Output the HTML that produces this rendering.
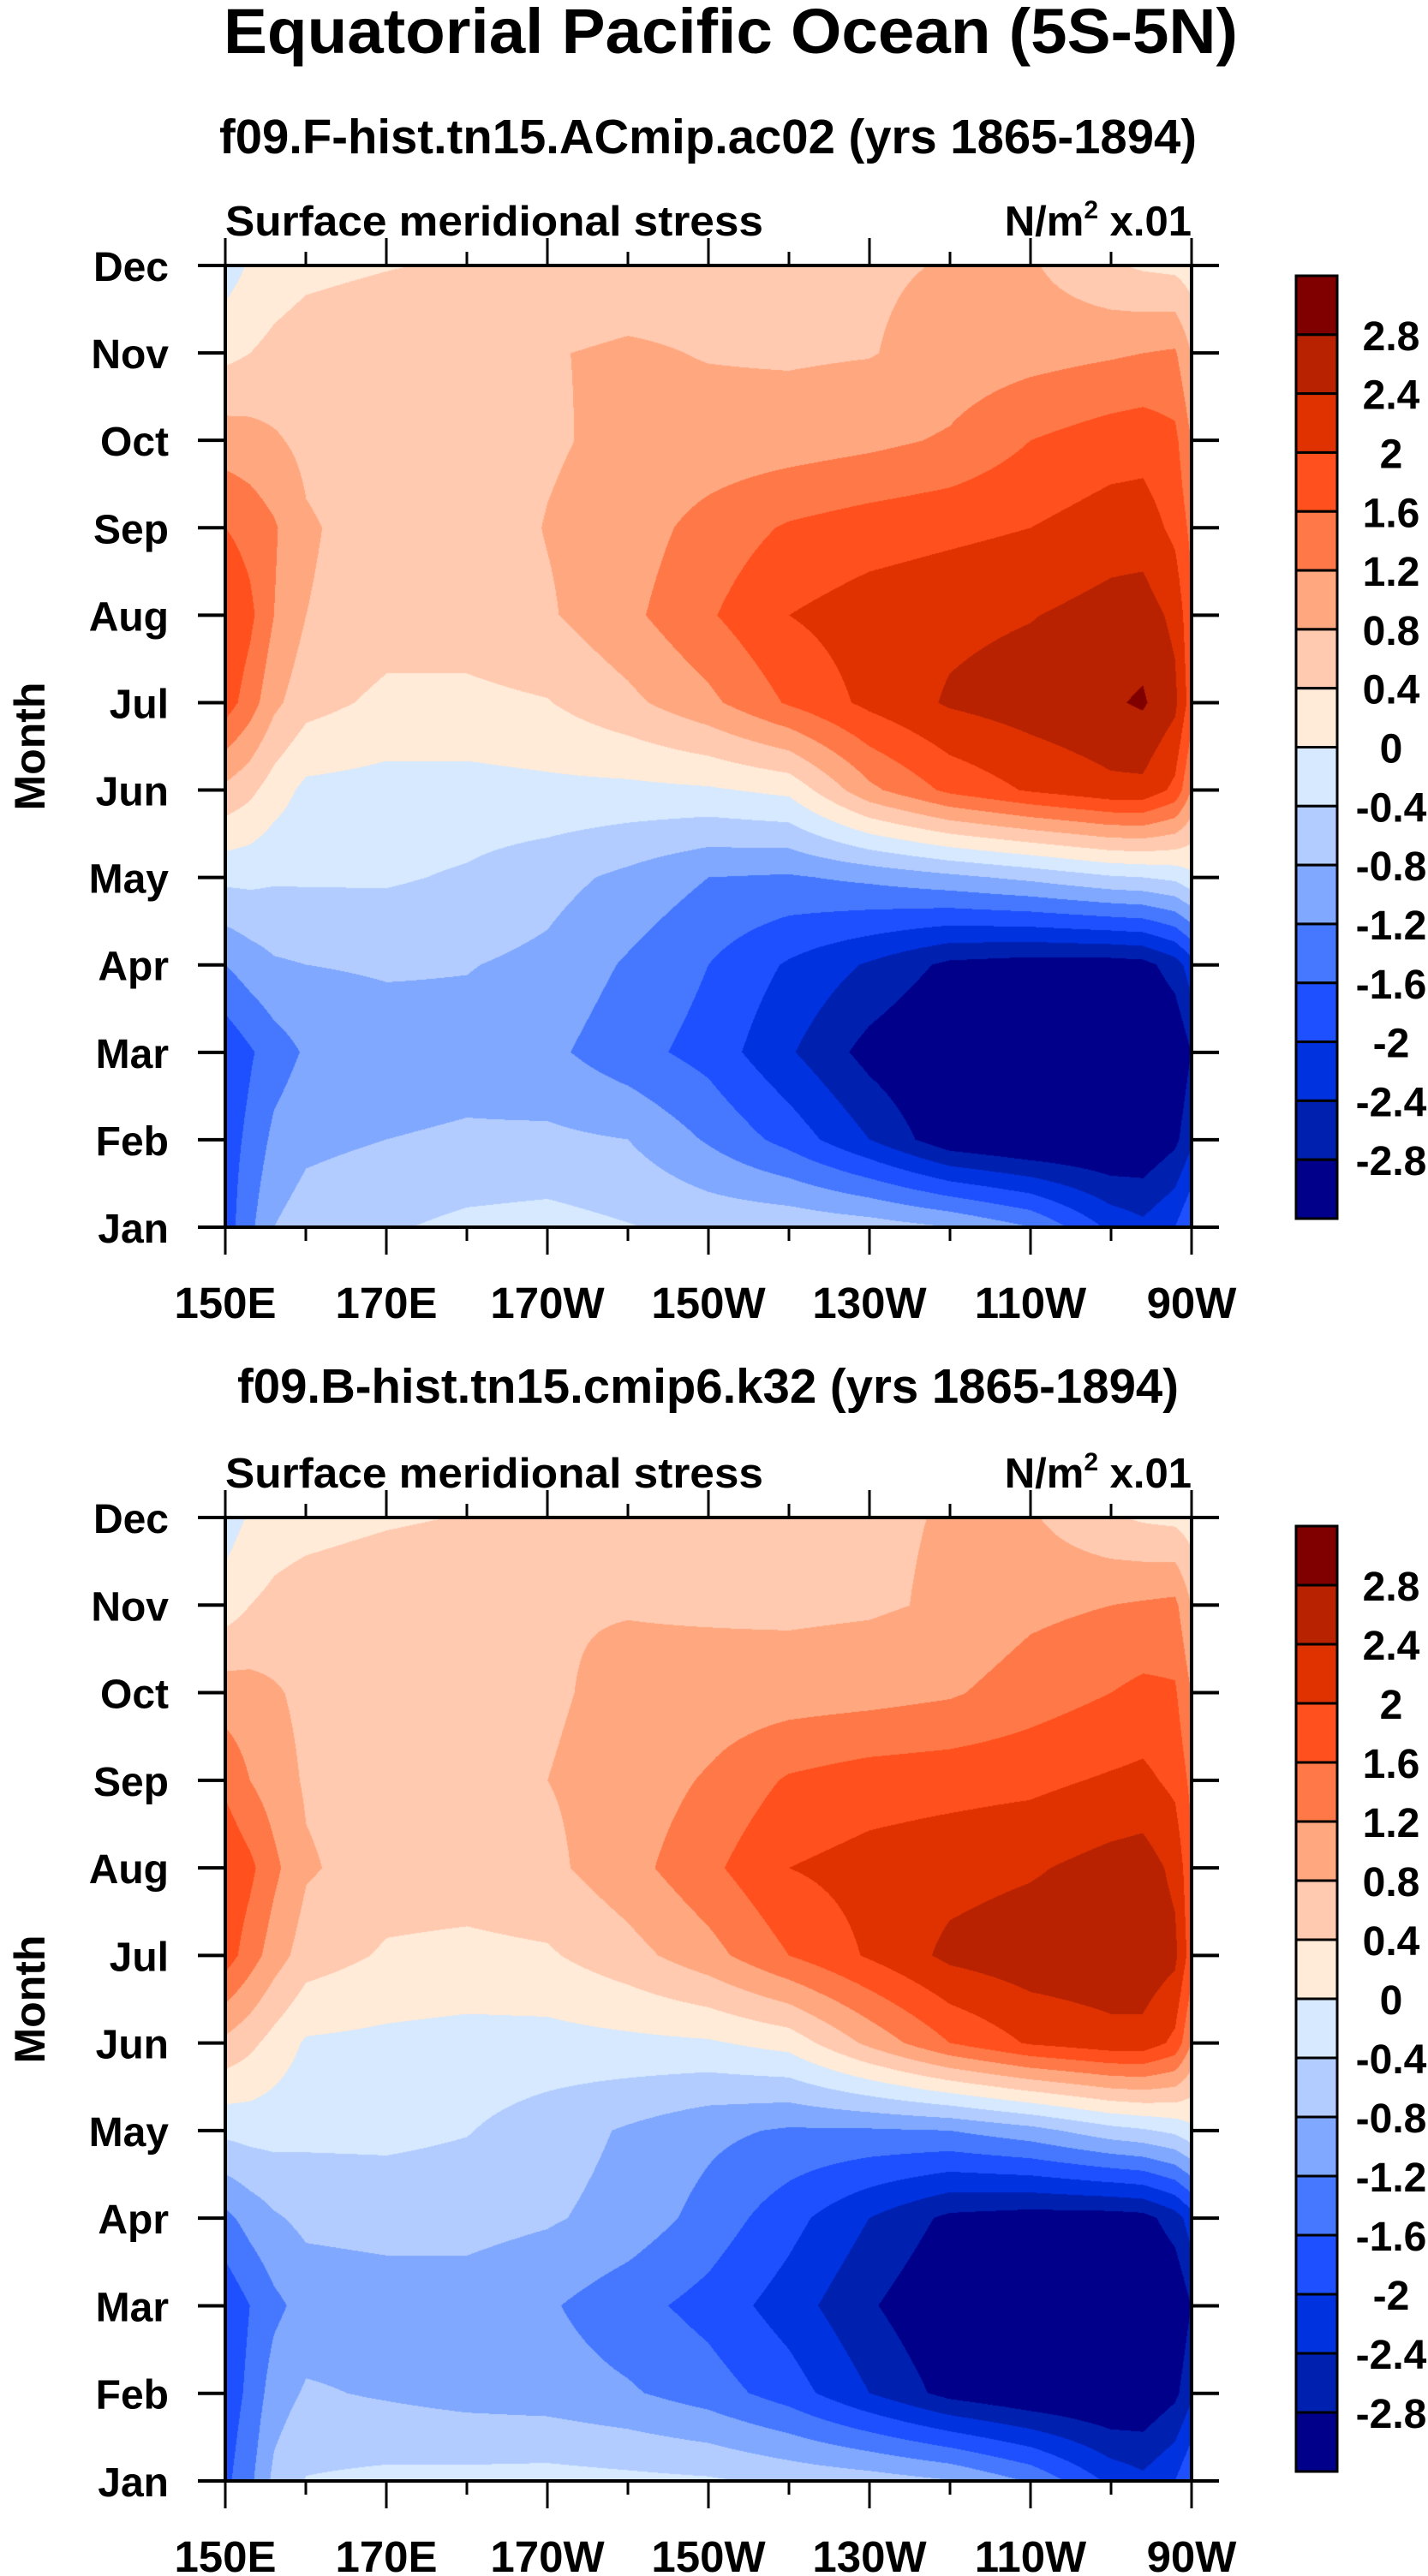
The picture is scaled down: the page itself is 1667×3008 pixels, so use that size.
<!DOCTYPE html>
<html><head><meta charset="utf-8">
<style>
html,body{margin:0;padding:0;background:#fff;}
#wrap{position:relative;width:1667px;height:3008px;overflow:hidden;background:#fff;}
canvas{position:absolute;}
svg{position:absolute;left:0;top:0;}
text{font-family:"Liberation Sans",sans-serif;font-weight:bold;fill:#000;}
</style></head><body>
<div id="wrap">
<canvas id="c1" style="left:263px;top:310px" width="1128" height="1123"></canvas>
<canvas id="c2" style="left:263px;top:1772px" width="1128" height="1125"></canvas>
<svg id="svg" width="1667" height="3008"></svg>
</div>
<script>
// ---- data ----
const lons = [150,153,156,160,170,180,190,200,210,220,230,240,250,260,264,268,270];
const monthLabels = ["Jan","Feb","Mar","Apr","May","Jun","Jul","Aug","Sep","Oct","Nov","Dec"];
const lonTicks = [150,170,190,210,230,250,270];
const lonTickLabels = ["150E","170E","170W","150W","130W","110W","90W"];
const levels = [-2.8,-2.4,-2,-1.6,-1.2,-0.8,-0.4,0,0.4,0.8,1.2,1.6,2,2.4,2.8];
const levelLabels = ["-2.8","-2.4","-2","-1.6","-1.2","-0.8","-0.4","0","0.4","0.8","1.2","1.6","2","2.4","2.8"];
const fillColors = ["#00008a","#0020b0","#0032e0","#1e50ff","#4678ff","#80a8ff","#b2ccff","#d6e9ff","#ffebd8","#ffcab0","#ffa880","#ff7848","#ff501e","#e03200","#b82200","#800000"];
const field1 = [
 [-1.8,-1.3,-0.8,-0.6,-0.45,-0.3,-0.25,-0.38,-0.5,-0.5,-0.6,-0.8,-1.2,-2.1,-2.3,-2.0,-1.6],
 [-1.8,-1.5,-1.1,-0.9,-0.8,-0.75,-0.72,-0.8,-1.25,-1.75,-2.4,-3.1,-3.3,-3.3,-3.2,-2.9,-2.5],
 [-1.9,-1.65,-1.4,-1.15,-1.0,-0.95,-1.1,-1.45,-1.75,-2.35,-2.95,-3.3,-3.4,-3.4,-3.4,-3.2,-2.8],
 [-1.2,-1.0,-0.85,-0.8,-0.75,-0.78,-0.9,-1.25,-1.6,-2.05,-2.45,-2.9,-3.0,-3.0,-2.95,-2.6,-2.2],
 [-0.3,-0.3,-0.35,-0.35,-0.35,-0.45,-0.65,-0.9,-1.2,-1.25,-1.1,-0.9,-0.7,-0.45,-0.4,-0.3,-0.1],
 [0.7,0.5,0.2,-0.1,-0.15,-0.15,-0.1,-0.1,-0.05,0.1,1.1,1.7,2.05,2.3,2.3,1.9,1.2],
 [1.8,1.4,0.9,0.55,0.3,0.3,0.38,0.7,1.1,1.65,2.1,2.45,2.6,2.75,2.85,2.5,1.8],
 [2.0,1.7,1.2,0.8,0.6,0.6,0.75,1.1,1.55,2.0,2.2,2.3,2.38,2.55,2.6,2.3,1.7],
 [1.6,1.45,1.25,0.85,0.6,0.55,0.82,1.0,1.35,1.65,1.8,1.9,2.0,2.2,2.2,1.9,1.5],
 [1.0,0.95,0.85,0.7,0.55,0.6,0.75,0.9,0.95,1.0,1.1,1.25,1.6,1.8,1.85,1.7,1.2],
 [0.3,0.4,0.5,0.6,0.7,0.75,0.78,0.85,0.78,0.75,0.78,0.95,1.05,1.15,1.2,1.25,0.8],
 [-0.2,0.05,0.2,0.3,0.38,0.45,0.55,0.6,0.65,0.7,0.75,0.82,0.85,0.45,0.35,0.3,0.2]
];
const field2 = [
 [-1.7,-1.3,-0.7,-0.38,-0.3,-0.28,-0.25,-0.3,-0.35,-0.5,-0.6,-0.78,-1.25,-2.1,-2.3,-2.0,-1.6],
 [-1.85,-1.5,-1.0,-0.75,-0.85,-0.95,-1.0,-1.15,-1.4,-1.8,-2.4,-2.95,-3.2,-3.3,-3.2,-2.9,-2.5],
 [-1.9,-1.6,-1.3,-1.05,-1.0,-1.0,-1.15,-1.45,-1.75,-2.2,-2.75,-3.2,-3.4,-3.4,-3.4,-3.2,-2.8],
 [-1.3,-1.05,-0.85,-0.7,-0.65,-0.65,-0.75,-0.95,-1.35,-1.85,-2.4,-2.9,-3.0,-3.0,-2.95,-2.6,-2.2],
 [-0.3,-0.25,-0.25,-0.3,-0.3,-0.38,-0.6,-0.85,-1.1,-1.25,-1.25,-1.2,-0.95,-0.55,-0.45,-0.3,-0.1],
 [0.7,0.5,0.25,-0.05,-0.1,-0.15,-0.15,-0.1,-0.05,0.15,0.9,1.6,2.05,2.25,2.25,1.9,1.2],
 [1.8,1.4,1.0,0.6,0.35,0.3,0.35,0.65,1.05,1.6,2.05,2.5,2.65,2.7,2.7,2.5,1.8],
 [1.95,1.7,1.3,0.85,0.6,0.6,0.7,1.05,1.5,2.0,2.15,2.25,2.35,2.55,2.6,2.3,1.7],
 [1.5,1.2,1.0,0.75,0.6,0.55,0.8,0.95,1.25,1.65,1.8,1.85,1.9,2.05,2.1,1.9,1.5],
 [1.0,0.95,0.85,0.7,0.55,0.6,0.75,0.9,0.95,1.0,1.05,1.15,1.4,1.6,1.7,1.65,1.2],
 [0.2,0.4,0.5,0.6,0.7,0.75,0.78,0.78,0.75,0.72,0.75,0.85,1.1,1.2,1.25,1.3,0.8],
 [-0.2,0.05,0.2,0.25,0.35,0.42,0.55,0.6,0.65,0.7,0.75,0.82,0.85,0.45,0.35,0.3,0.2]
];

// ---- helpers ----
function hex(c){return [parseInt(c.substr(1,2),16),parseInt(c.substr(3,2),16),parseInt(c.substr(5,2),16)];}
const rgb = fillColors.map(hex);
function classOf(v){let k=0;while(k<levels.length&&v>=levels[k])k++;return k;}
function sample(field,lon,m){
  let i=0;while(i<lons.length-2&&lon>lons[i+1])i++;
  let tx=(lon-lons[i])/(lons[i+1]-lons[i]);tx=Math.max(0,Math.min(1,tx));
  let j=Math.min(10,Math.max(0,Math.floor(m)));let ty=Math.max(0,Math.min(1,m-j));
  const a=field[j][i],b=field[j][i+1],c=field[j+1][i],d=field[j+1][i+1];
  return (a*(1-tx)+b*tx)*(1-ty)+(c*(1-tx)+d*tx)*ty;
}
function drawField(id,field){
  const cv=document.getElementById(id),ctx=cv.getContext('2d');
  const W=cv.width,H=cv.height,img=ctx.createImageData(W,H);
  for(let y=0;y<H;y++){const m=11*(1-y/(H-1));
    for(let x=0;x<W;x++){const lon=150+120*x/(W-1);
      const col=rgb[classOf(sample(field,lon,m))];const p=(y*W+x)*4;
      img.data[p]=col[0];img.data[p+1]=col[1];img.data[p+2]=col[2];img.data[p+3]=255;}}
  ctx.putImageData(img,0,0);
}
drawField('c1',field1);drawField('c2',field2);

const svg=document.getElementById('svg');const NS='http://www.w3.org/2000/svg';
function el(tag,attrs,parent){const e=document.createElementNS(NS,tag);for(const k in attrs)e.setAttribute(k,attrs[k]);(parent||svg).appendChild(e);return e;}
function txt(s,attrs,parent){const e=el('text',attrs,parent);e.textContent=s;return e;}

const L=263,R=1391;
function xOf(lon){return L+(lon-150)*(R-L)/120;}

function panel(top,bottom,cbTop,cbBot,subtitle,subY,subX1,subX2,n){
  const g=el('g',{});
  
  
  const yOf=m=>bottom-(bottom-top)*m/11;
  const st=txt(subtitle,{x:(subX1+subX2)/2,y:subY,'font-size':57,'text-anchor':'middle',textLength:subX2-subX1,lengthAdjust:'spacingAndGlyphs'},g);
  
  
  const lt=txt('Surface meridional stress',{x:L,y:top-35,'font-size':49,textLength:628,lengthAdjust:'spacingAndGlyphs'},g);
  
  
  const ut=el('text',{x:R,y:top-35,'font-size':49,'text-anchor':'end'},g);
  
  
  ut.innerHTML='N/m<tspan dy="-20" font-size="30">2</tspan><tspan dy="20"> x.01</tspan>';
  const fr=el('rect',{x:L,y:top,width:R-L,height:bottom-top,fill:'none',stroke:'#000','stroke-width':4},g);
  
  
  for(let m=0;m<12;m++){const y=yOf(m);
    el('line',{x1:L-32,x2:L,y1:y,y2:y,stroke:'#000','stroke-width':4},g);
    el('line',{x1:R,x2:R+32,y1:y,y2:y,stroke:'#000','stroke-width':4},g);
    const t=txt(monthLabels[m],{x:197,y:y+18,'font-size':48,'text-anchor':'end'},g);
    
    }
  for(let lon=150;lon<=270;lon+=10){const x=xOf(lon);const major=(lon-150)%20===0;const len=major?32:16;
    el('line',{x1:x,x2:x,y1:top-len,y2:top,stroke:'#000','stroke-width':3},g);
    el('line',{x1:x,x2:x,y1:bottom,y2:bottom+len,stroke:'#000','stroke-width':3},g);}
  lonTicks.forEach((lon,i)=>{const t=txt(lonTickLabels[i],{x:xOf(lon),y:bottom+106,'font-size':51,'text-anchor':'middle'},g);
    
    });
  const ya=txt('Month',{x:0,y:0,'font-size':50,'text-anchor':'middle',transform:'translate(52,'+((top+bottom)/2)+') rotate(-90)'},g);
  
  
  // colorbar
  const cb=el('g',{},g);
  
  
  const nb=fillColors.length,h=(cbBot-cbTop)/nb;
  for(let k=0;k<nb;k++){const y=cbTop+h*k;const ci=nb-1-k;
    const r=el('rect',{x:1513,y:y,width:48,height:h,fill:fillColors[ci],stroke:'#000','stroke-width':3},cb);
    
    }
  for(let k=1;k<nb;k++){const y=cbTop+h*k;const li=levels.length-k;
    const t=txt(levelLabels[li],{x:1624,y:y+18,'font-size':48,'text-anchor':'middle'},cb);
    
    }
}
const mt=txt('Equatorial Pacific Ocean (5S-5N)',{x:853,y:62,'font-size':74,'text-anchor':'middle',textLength:1184,lengthAdjust:'spacingAndGlyphs'});


panel(310,1433,322,1423,'f09.F-hist.tn15.ACmip.ac02 (yrs 1865-1894)',179,256,1397,1);
panel(1772,2897,1782,2886,'f09.B-hist.tn15.cmip6.k32 (yrs 1865-1894)',1638,277,1376,2);
</script>
</body></html>
